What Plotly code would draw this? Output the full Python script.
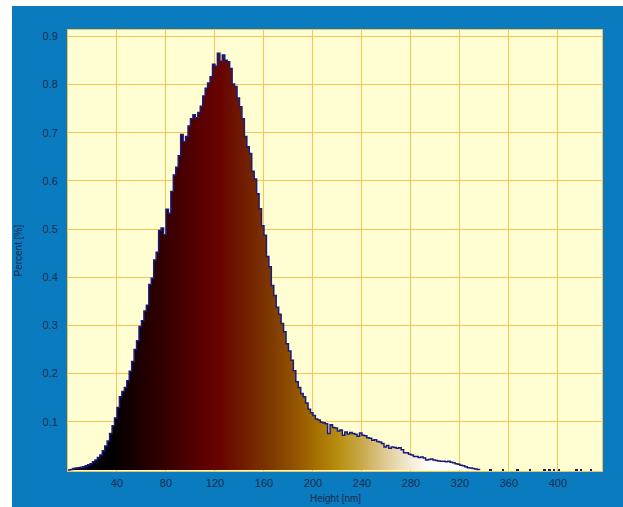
import plotly.graph_objects as go

# ---- data (bin start in nm, 2 nm bins) ----
bin_width = 2
heights = [
    0.000, 0.001, 0.003, 0.004, 0.005, 0.006, 0.007, 0.009, 0.011, 0.013,   # 0-18
    0.017, 0.021, 0.026, 0.031, 0.040, 0.050, 0.060, 0.076, 0.092, 0.108,   # 20-38
    0.130, 0.152, 0.163, 0.171, 0.185, 0.205, 0.225, 0.250, 0.268, 0.298,   # 40-58
    0.310, 0.330, 0.342, 0.385, 0.398, 0.436, 0.452, 0.497, 0.502, 0.488,   # 60-78
    0.541, 0.533, 0.578, 0.612, 0.628, 0.652, 0.696, 0.681, 0.692, 0.714,   # 80-98
    0.729, 0.737, 0.731, 0.742, 0.755, 0.776, 0.792, 0.803, 0.816, 0.842,   # 100-118
    0.838, 0.865, 0.848, 0.861, 0.850, 0.847, 0.833, 0.801, 0.796, 0.772,   # 120-138
    0.754, 0.729, 0.692, 0.671, 0.657, 0.620, 0.604, 0.573, 0.542, 0.507,   # 140-158
    0.487, 0.443, 0.422, 0.383, 0.362, 0.338, 0.323, 0.304, 0.287, 0.262,   # 160-178
    0.247, 0.228, 0.206, 0.183, 0.171, 0.159, 0.152, 0.139, 0.126, 0.119,   # 180-198
    0.113, 0.106, 0.104, 0.099, 0.098, 0.096, 0.076, 0.094, 0.088, 0.087,   # 200-218
    0.081, 0.083, 0.072, 0.079, 0.075, 0.078, 0.076, 0.074, 0.070, 0.077,   # 220-238
    0.072, 0.071, 0.067, 0.066, 0.062, 0.063, 0.059, 0.058, 0.055, 0.048,   # 240-258
    0.051, 0.045, 0.048, 0.047, 0.045, 0.046, 0.042, 0.036, 0.036, 0.033,   # 260-278
    0.031, 0.028, 0.028, 0.026, 0.027, 0.025, 0.021, 0.022, 0.023, 0.021,   # 280-298
    0.020, 0.019, 0.018, 0.018, 0.017, 0.018, 0.016, 0.015, 0.013, 0.012,   # 300-318
    0.010, 0.009, 0.007, 0.005, 0.004, 0.003, 0.002, 0.001,                 # 320-334
]
sparse_nm = [344, 354, 366, 376, 388, 392, 396, 400, 414, 418, 426]
sparse_val = [0.003, 0.003, 0.003, 0.003, 0.003, 0.003, 0.003, 0.003, 0.003, 0.003, 0.002]

x_ticks = [40, 80, 120, 160, 200, 240, 280, 320, 360, 400]
y_ticks = [0.1, 0.2, 0.3, 0.4, 0.5, 0.6, 0.7, 0.8, 0.9]

# ---- step outline points ----
xs, ys = [], []
for i, h in enumerate(heights):
    xs += [i * bin_width]
    ys += [h]
xs.append(len(heights) * bin_width)
ys.append(0.0)

# colour map along x (nm -> colour)
cstops = [
    (0, "#0a0a1e"), (35, "#000000"), (60, "#1e0000"), (85, "#3c0000"),
    (110, "#5c0000"), (125, "#680400"), (145, "#721e00"), (165, "#7e3800"),
    (185, "#925200"), (205, "#a87400"), (222, "#b89012"), (240, "#c8aa4c"),
    (260, "#e0cc96"), (280, "#f4ecd6"), (296, "#ffffff"), (340, "#ffffff"),
]
g_start, g_stop = 0, 340
colorscale = [[(v - g_start) / (g_stop - g_start), c] for v, c in cstops]

navy = "#1b1b7a"
text_col = "#1a2b4c"
blue = "#0a7bbf"

fig = go.Figure()
fig.add_trace(go.Scatter(
    x=xs, y=ys, mode="lines", line=dict(color=navy, width=1.5, shape="hv"),
    fill="tozeroy",
    fillgradient=dict(type="horizontal", colorscale=colorscale, start=g_start, stop=g_stop),
    hoverinfo="skip", showlegend=False,
))
fig.add_trace(go.Bar(
    x=[v + 1 for v in sparse_nm], y=sparse_val, width=bin_width,
    marker=dict(color=navy, line=dict(width=0)), showlegend=False,
))

W, H = 623, 507
ml, mr, mt, mb = 68, 21, 30, 36
pw, ph = W - ml - mr, H - mt - mb

def px_x(p):
    return (p - ml) / pw

def px_y(p):
    return (H - mb - p) / ph

fig.update_layout(
    width=W, height=H,
    margin=dict(l=ml, r=mr, t=mt, b=mb, pad=0),
    paper_bgcolor=blue,
    plot_bgcolor="#fffdd2",
    font=dict(family="Liberation Sans, Arial, sans-serif", size=11, color=text_col),
    bargap=0,
    xaxis=dict(
        range=[0, 436], tickvals=x_ticks, ticktext=[str(v) for v in x_ticks],
        showgrid=True, gridcolor="#f6c650", gridwidth=1.3,
        zeroline=False, showline=True, mirror=True, linecolor="#efc25a", linewidth=1,
        ticks="outside", ticklen=2, tickcolor=blue,
        tickfont=dict(size=11, color=text_col),
    ),
    yaxis=dict(
        range=[-0.002, 0.913], tickvals=y_ticks, ticktext=[f"{v:.1f}" for v in y_ticks],
        showgrid=True, gridcolor="#f6c650", gridwidth=1.3,
        zeroline=False, showline=True, mirror=True, linecolor="#efc25a", linewidth=1,
        ticks="outside", ticklen=7, tickcolor=blue,
        tickfont=dict(size=11, color=text_col),
    ),
    shapes=[
        dict(type="rect", xref="paper", yref="paper",
             x0=px_x(0), x1=px_x(12), y0=px_y(H + 2), y1=px_y(-2),
             fillcolor="white", line=dict(width=0), layer="above"),
        dict(type="rect", xref="paper", yref="paper",
             x0=px_x(0), x1=px_x(W + 2), y0=px_y(6), y1=px_y(-2),
             fillcolor="white", line=dict(width=0), layer="above"),
    ],
    annotations=[
        dict(text="Percent [%]", xref="paper", yref="paper", x=px_x(18), y=0.5,
             textangle=-90, showarrow=False, xanchor="center", yanchor="middle",
             font=dict(size=10, color=text_col)),
        dict(text="Height [nm]", xref="paper", yref="paper", x=px_x(335), y=px_y(498),
             showarrow=False, xanchor="center", yanchor="middle",
             font=dict(size=10, color=text_col)),
    ],
)

fig.write_html("out.html")
